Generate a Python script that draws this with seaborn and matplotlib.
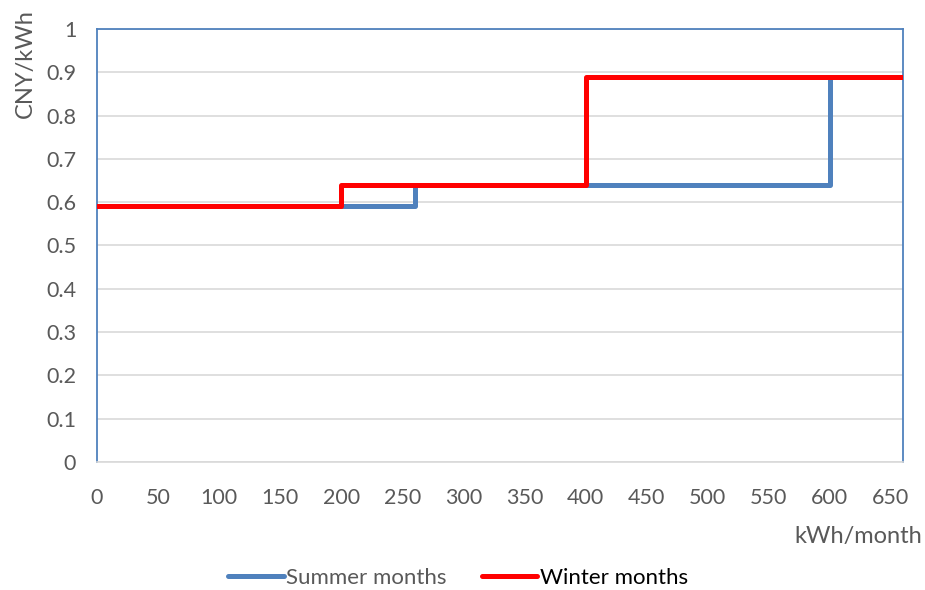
import numpy as np
import pandas as pd
import matplotlib
matplotlib.use("Agg")
import matplotlib.pyplot as plt
import seaborn as sns
from matplotlib.lines import Line2D

# ── data ────────────────────────────────────────────────────
summer_kwh   = [0, 260, 600, 660]
summer_price = [0.59, 0.64, 0.89, 0.89]
winter_kwh   = [0, 200, 400, 660]
winter_price = [0.59, 0.64, 0.89, 0.89]
series_names = ["Summer months", "Winter months"]
x_ticks = list(range(0, 651, 50))
y_ticks = [round(v * 0.1, 1) for v in range(0, 11)]

COLORS = {"Summer months": "#4F81BD", "Winter months": "#FF0000"}
GRAY   = "#595959"

df = pd.concat([
    pd.DataFrame({"kwh": summer_kwh, "price": summer_price, "season": series_names[0]}),
    pd.DataFrame({"kwh": winter_kwh, "price": winter_price, "season": series_names[1]}),
])

sns.set_style("white")
plt.rcParams["font.family"] = ["Lato", "DejaVu Sans"]

fig = plt.figure(figsize=(9.25, 5.9), dpi=100)
ax = fig.add_axes([0.1049, 0.217, 0.8714, 0.734])

for name in series_names:
    sub = df[df["season"] == name]
    sns.lineplot(data=sub, x="kwh", y="price", ax=ax, color=COLORS[name],
                 drawstyle="steps-post", linewidth=3.6, legend=False,
                 solid_joinstyle="round", zorder=3)

ax.set_xlim(0, 660)
ax.set_ylim(0, 1)
ax.set_xticks(x_ticks)
ax.set_yticks(y_ticks)
ax.set_yticklabels(["0" if v == 0 else ("1" if v == 1 else f"{v:.1f}") for v in y_ticks])
ax.tick_params(axis="both", length=0, labelsize=15.5, labelcolor=GRAY)
ax.tick_params(axis="x", pad=19)
ax.tick_params(axis="y", pad=15)
ax.grid(axis="y", color="#D9D9D9", linewidth=1.2)
ax.set_axisbelow(True)
ax.set_xlabel("")
ax.set_ylabel("")

for side in ["left", "right", "top"]:
    ax.spines[side].set_color("#4F81BD")
    ax.spines[side].set_linewidth(1.3)
ax.spines["bottom"].set_color("#D9D9D9")
ax.spines["bottom"].set_linewidth(1.2)

fig.text(25 / 925, 1 - 9 / 590, "CNY/kWh", rotation=90, ha="center", va="top",
         fontsize=17, color=GRAY)
fig.text(922 / 925, 1 - 537 / 590, "kWh/month", ha="right", va="center",
         fontsize=17, color=GRAY)

handles = [Line2D([0], [0], color=COLORS[n], linewidth=3.6, solid_capstyle="round") for n in series_names]
leg = fig.legend(handles, series_names, loc="center", bbox_to_anchor=(0.495, 1 - 578 / 590),
                 ncol=2, frameon=False, fontsize=16, handlelength=2.5,
                 handletextpad=0.1, columnspacing=1.6)
leg.get_texts()[0].set_color(GRAY)
leg.get_texts()[1].set_color("black")

plt.savefig("out.png", dpi=100, facecolor="white")
plt.close()
